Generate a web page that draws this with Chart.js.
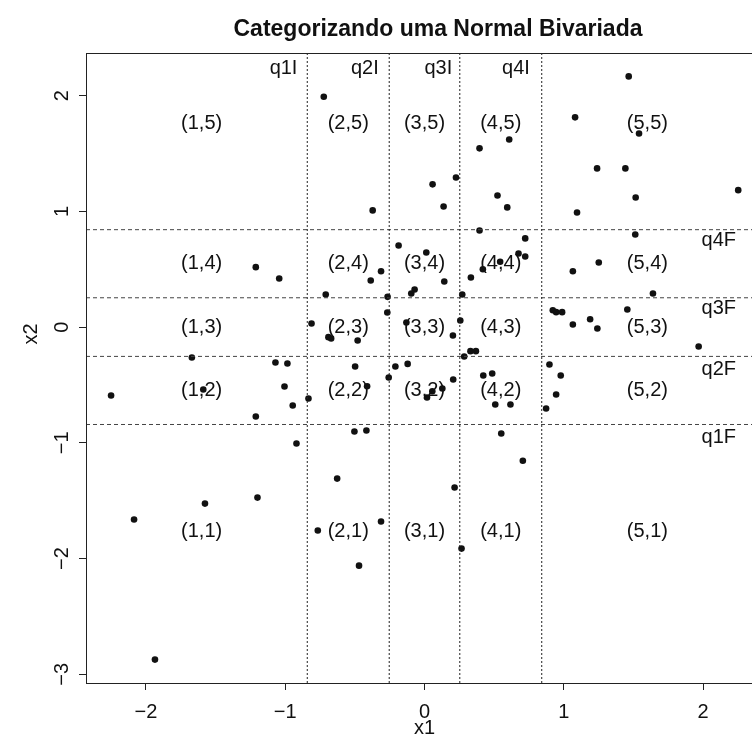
<!DOCTYPE html>
<html lang="pt-BR">
<head>
<meta charset="utf-8">
<title>Categorizando uma Normal Bivariada</title>
<script src="https://cdn.jsdelivr.net/npm/chart.js@4.4.1/dist/chart.umd.min.js"></script>
<style>
  html, body { margin: 0; padding: 0; background: #fff; overflow: hidden; }
  canvas { display: block; }
</style>
</head>
<body>
<canvas id="grafico" width="850" height="750"></canvas>
<script>
// ============================
// Dados: amostra da normal bivariada
// ============================
const x1Vals = [
  -1.211, -0.723, -0.372, 0.058, 0.137, 0.226, 0.395, 0.608, 0.524, 0.594,
  0.395, -0.186, 0.013, 0.723, 0.675, 0.723, -0.312, 0.419, 0.543, 1.466,
  1.081, 1.540, 1.239, 1.442, 2.252, 1.516, 1.095, 1.513, 1.251, 1.065,
  -1.043, -1.670, -1.070, -0.984, -2.250, -1.588, -1.005, -0.946, -1.211, -0.919,
  -0.833, -0.386, -0.709, -0.265, -0.071, -0.095, 0.142, 0.333, 0.271, -0.267,
  -0.811, -0.130, 0.257, 0.204, -0.690, -0.670, -0.480, 0.330, 0.369, 0.285,
  -0.498, -0.209, -0.121, -0.257, 0.206, 0.422, 0.486, -0.412, 0.018, 0.056,
  0.128, 0.508, 0.617, -0.503, -0.417, 0.551, 0.706, -0.627, 1.640, 0.921,
  0.945, 0.988, 1.456, 1.065, 1.189, 1.241, 1.968, 0.897, 0.978, 0.945,
  0.873, -2.085, -1.576, -1.199, -1.935, 0.216, -0.766, -0.312, -0.470, 0.266
];
const x2Vals = [
  0.518, 1.990, 1.008, 1.233, 1.042, 1.293, 1.544, 1.621, 1.137, 1.034,
  0.835, 0.705, 0.645, 0.766, 0.636, 0.610, 0.483, 0.500, 0.564, 2.166,
  1.812, 1.673, 1.371, 1.371, 1.183, 1.120, 0.990, 0.800, 0.558, 0.483,
  0.420, -0.263, -0.306, -0.315, -0.591, -0.539, -0.513, -0.678, -0.773, -1.006,
  -0.617, 0.403, 0.282, 0.261, 0.325, 0.290, 0.394, 0.429, 0.282, 0.126,
  0.031, 0.040, 0.057, -0.073, -0.087, -0.099, -0.116, -0.208, -0.208, -0.254,
  -0.341, -0.341, -0.318, -0.436, -0.453, -0.418, -0.401, -0.511, -0.608, -0.554,
  -0.531, -0.669, -0.669, -0.902, -0.894, -0.920, -1.155, -1.309, 0.290, 0.146,
  0.129, 0.129, 0.152, 0.022, 0.068, -0.012, -0.168, -0.323, -0.418, -0.583,
  -0.704, -1.663, -1.525, -1.473, -2.873, -1.386, -1.758, -1.680, -2.061, -1.914
];

// quantis da normal padrão (20%, 40%, 60%, 80%)
const cortes = [-0.8416, -0.2533, 0.2533, 0.8416];

const xTicks = [-2, -1, 0, 1, 2];
const yTicks = [-3, -2, -1, 0, 1, 2];
const xLim = [-2.43, 2.43];
const yLim = [-3.075, 2.368];

// centros das celas (i,j)
const celulaX = [-1.60, -0.5475, 0, 0.5475, 1.60];
const celulaY = [-1.763, -0.5475, 0, 0.5475, 1.763];

// rótulos dos quantis
const rotulosTopo = ['q1I', 'q2I', 'q3I', 'q4I'];
const topoX = [-1.012, -0.428, 0.099, 0.657];
const topoY = 2.233;
const rotulosDireita = ['q1F', 'q2F', 'q3F', 'q4F'];
const direitaX = 2.113;
const direitaY = [-0.95, -0.368, 0.165, 0.749];

const titulo = 'Categorizando uma Normal Bivariada';
const fonte = '"Liberation Sans", Arial, Helvetica, sans-serif';
const corTexto = '#111';
const menos = v => String(v).replace('-', '\u2212');

// ============================
// Linhas de corte e rótulos
// ============================
const linhasVerticais = cortes.map(q => ({
    data: [{ x: q, y: yLim[0] }, { x: q, y: yLim[1] }],
    showLine: true,
    borderColor: '#222',
    borderWidth: 1,
    borderDash: [2, 2],
    pointRadius: 0
}));
const linhasHorizontais = cortes.map(q => ({
    data: [{ x: xLim[0], y: q }, { x: xLim[1], y: q }],
    showLine: true,
    borderColor: '#444',
    borderWidth: 1,
    borderDash: [4, 3],
    pointRadius: 0
}));

const decoracao = {
    id: 'decoracao',
    afterDatasetsDraw(chart) {
        const { ctx, scales } = chart;
        const sx = scales.x, sy = scales.y;
        ctx.save();
        ctx.fillStyle = corTexto;
        ctx.font = '20px ' + fonte;
        ctx.textAlign = 'center';
        ctx.textBaseline = 'middle';
        celulaX.forEach((cx, i) => {
            celulaY.forEach((cy, j) => {
                ctx.fillText('(' + (i + 1) + ',' + (j + 1) + ')', sx.getPixelForValue(cx), sy.getPixelForValue(cy));
            });
        });
        rotulosTopo.forEach((t, i) => {
            ctx.fillText(t, sx.getPixelForValue(topoX[i]), sy.getPixelForValue(topoY));
        });
        rotulosDireita.forEach((t, i) => {
            ctx.fillText(t, sx.getPixelForValue(direitaX), sy.getPixelForValue(direitaY[i]));
        });
        ctx.restore();
    },
    afterDraw(chart) {
        const { ctx, chartArea, scales } = chart;
        const sy = scales.y;
        ctx.save();
        // moldura
        ctx.strokeStyle = '#222';
        ctx.lineWidth = 1;
        ctx.strokeRect(Math.round(chartArea.left) + 0.5, Math.round(chartArea.top) + 0.5,
            Math.round(chartArea.right - chartArea.left), Math.round(chartArea.bottom - chartArea.top));
        // título
        ctx.fillStyle = corTexto;
        ctx.textAlign = 'center';
        ctx.textBaseline = 'middle';
        ctx.font = 'bold 23px ' + fonte;
        ctx.fillText(titulo, 438, 30);
        // rótulos do eixo y, girados
        ctx.font = '20px ' + fonte;
        sy.ticks.forEach(t => {
            ctx.save();
            ctx.translate(62, sy.getPixelForValue(t.value));
            ctx.rotate(-Math.PI / 2);
            ctx.fillText(menos(t.value), 0, 0);
            ctx.restore();
        });
        ctx.save();
        ctx.translate(31, 334);
        ctx.rotate(-Math.PI / 2);
        ctx.fillText('x2', 0, 0);
        ctx.restore();
        ctx.restore();
    }
};

// ============================
// Gráfico
// ============================
const ctx = document.getElementById('grafico').getContext('2d');
const grafico = new Chart(ctx, {
    type: 'scatter',
    data: {
        datasets: [
            ...linhasVerticais,
            ...linhasHorizontais,
            {
                data: x1Vals.map((x, i) => ({ x: x, y: x2Vals[i] })),
                pointRadius: 3.3,
                pointBackgroundColor: '#111',
                pointBorderWidth: 0,
                showLine: false
            }
        ]
    },
    options: {
        responsive: false,
        animation: false,
        devicePixelRatio: 1,
        layout: { padding: { top: 53, right: 87, bottom: 0, left: 0 } },
        plugins: {
            legend: { display: false },
            tooltip: { enabled: false },
            title: { display: false }
        },
        scales: {
            x: {
                type: 'linear',
                min: xLim[0],
                max: xLim[1],
                afterBuildTicks: s => { s.ticks = xTicks.map(v => ({ value: v })); },
                afterFit: s => { s.height = 67; },
                grid: { drawOnChartArea: false, drawTicks: true, tickLength: 7, tickColor: '#222' },
                border: { display: false },
                ticks: {
                    padding: 10, color: corTexto, autoSkip: false, maxRotation: 0,
                    font: { family: fonte, size: 20 },
                    callback: v => menos(v)
                },
                title: {
                    display: true, text: 'x1', color: corTexto,
                    font: { family: fonte, size: 20 },
                    padding: { top: 0, bottom: 10 }
                }
            },
            y: {
                type: 'linear',
                min: yLim[0],
                max: yLim[1],
                afterBuildTicks: s => { s.ticks = yTicks.map(v => ({ value: v })); },
                afterFit: s => { s.width = 86; },
                grid: { drawOnChartArea: false, drawTicks: true, tickLength: 7, tickColor: '#222' },
                border: { display: false },
                ticks: { display: false }
            }
        }
    },
    plugins: [decoracao]
});
</script>
</body>
</html>
